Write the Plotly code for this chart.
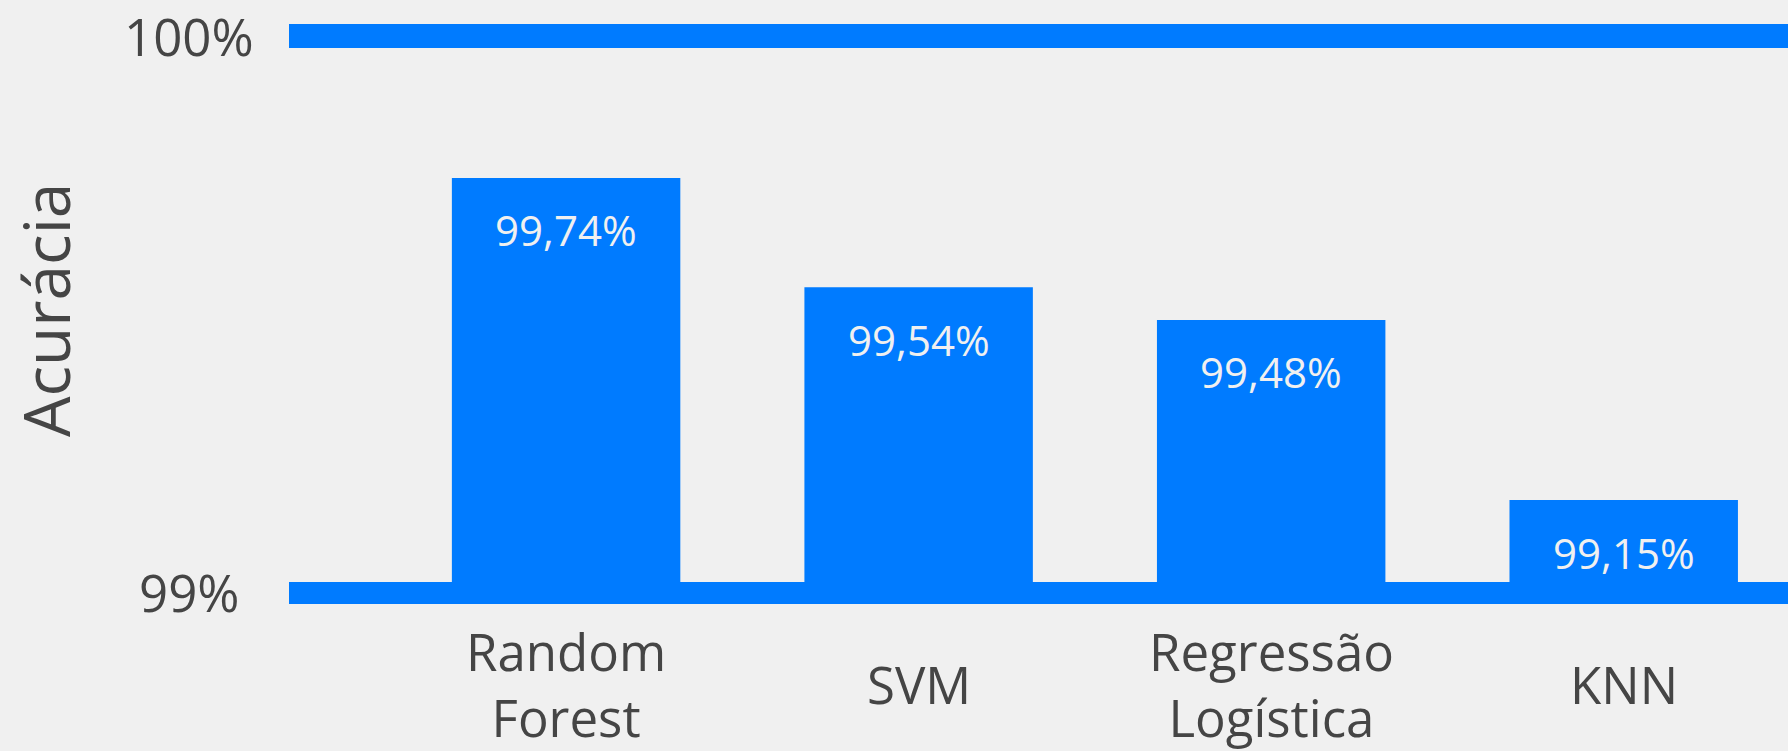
import plotly.graph_objects as go

models = ["Random Forest", "SVM", "Regressão Logística", "KNN"]
accuracy = [99.74, 99.54, 99.48, 99.15]
y_ticks = [99, 100]
y_tick_text = ["99%", "100%"]

BLUE = "#007BFF"
BG = "#F0F0F0"
GREY = "#454545"
FONT = "Open Sans"

fig = go.Figure()
fig.add_trace(go.Bar(x=models, y=accuracy, marker=dict(color=BLUE, line=dict(width=0)),
                     hoverinfo="skip", showlegend=False))

# value labels inside the bars, comma as decimal separator
for m, v in zip(models, accuracy):
    fig.add_annotation(x=m, y=v, text=f"{v:.2f}%".replace(".", ","), showarrow=False,
                       yanchor="middle", yshift=-52,
                       font=dict(family=FONT, size=42, color=BG))

# category labels, vertically centred under each bar
for m in models:
    fig.add_annotation(x=m, y=-0.176, yref="paper", text=m.replace(" ", "<br>"),
                       showarrow=False, yanchor="middle",
                       font=dict(family=FONT, size=51, color=GREY))

# y tick labels, centred
for t, lbl in zip(y_ticks, y_tick_text):
    fig.add_annotation(x=-0.0667, xref="paper", y=t, text=lbl, showarrow=False,
                       xanchor="center", yanchor="middle", yshift=-10 if t == 99 else 0,
                       font=dict(family=FONT, size=51, color=GREY))

fig.add_annotation(x=-0.1625, xref="paper", y=0.468, yref="paper", text="Acurácia",
                   textangle=-90, showarrow=False, xanchor="center", yanchor="middle",
                   font=dict(family=FONT, size=64, color=GREY))

fig.update_layout(
    width=1788, height=751,
    paper_bgcolor=BG, plot_bgcolor=BG,
    margin=dict(l=289, r=0, t=0, b=169),
    bargap=0.352,
    xaxis=dict(range=[-0.786, 3.466], showticklabels=False, ticks="",
               showline=True, linecolor=BLUE, linewidth=22, showgrid=False, zeroline=False),
    yaxis=dict(range=[99, 100.066], tickvals=[100], showticklabels=False, ticks="",
               showgrid=True, gridcolor=BLUE, gridwidth=24, zeroline=False, showline=False),
)

fig.write_html("out.html", config={"displayModeBar": False},
               post_script="document.body.style.margin='0';document.body.style.overflow='hidden';")
